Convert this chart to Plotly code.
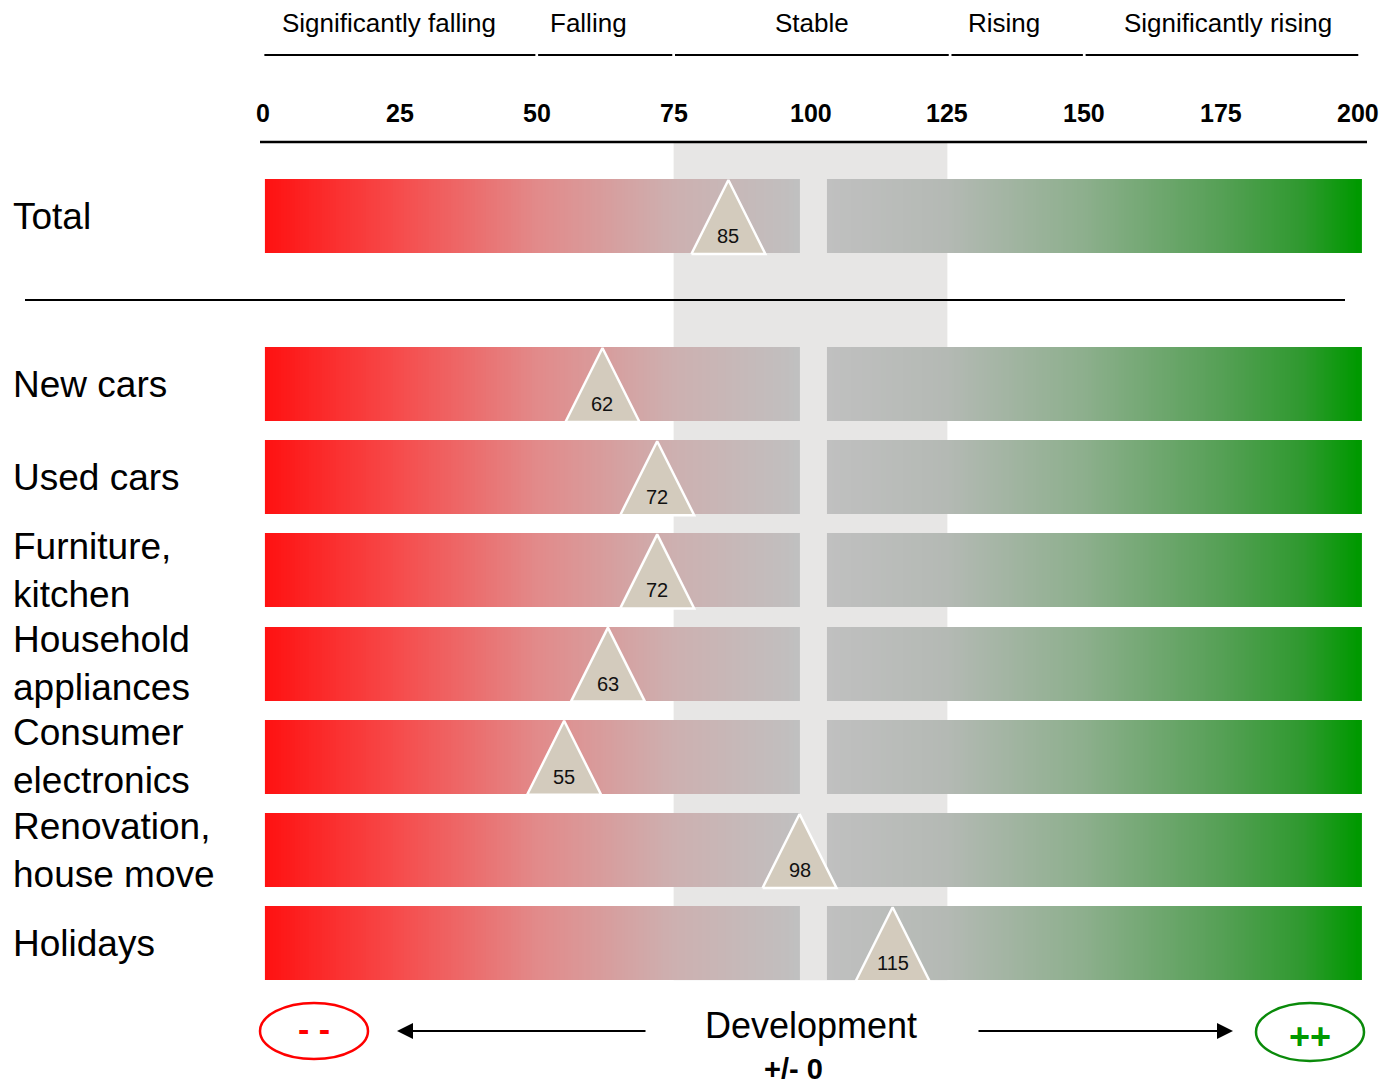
import plotly.graph_objects as go

# ---- data ----
categories = ["Total", "New cars", "Used cars", "Furniture,<br>kitchen",
              "Household<br>appliances", "Consumer<br>electronics",
              "Renovation,<br>house move", "Holidays"]
values = [85, 62, 72, 72, 63, 55, 98, 115]
tick_values = [0, 25, 50, 75, 100, 125, 150, 175, 200]
zone_labels = ["Significantly falling", "Falling", "Stable", "Rising", "Significantly rising"]
zone_label_pos = [23, 59.5, 100.3, 135.3, 176.3]
zone_edges = [0, 50, 75, 125.5, 150, 200.3]
stable_band = (75, 125)
left_bar = (0.35, 98.2)
right_bar = (103.1, 200.7)

# ---- geometry (pixel-like y units, x in index units) ----
W, H = 1383, 1085
X0_PX, PX_PER_UNIT = 263, 5.475
x_range = [-X0_PX / PX_PER_UNIT, (W - X0_PX) / PX_PER_UNIT]
BAR_H = 74
row_tops = [179] + [347 + i * 93.2 for i in range(len(categories) - 1)]
FONT = "Liberation Sans, Arial, sans-serif"


def px_to_x(px):
    return (px - X0_PX) / PX_PER_UNIT


fig = go.Figure()

# gradient bars: one heatmap with gaps between rows and around 100
n_cells = 402
span = right_bar[1] - left_bar[0]
x_edges = [left_bar[0] + span * i / n_cells for i in range(n_cells + 1)]
x_centers = [(a + b) / 2 for a, b in zip(x_edges[:-1], x_edges[1:])]
bar_row = [c if (c <= left_bar[1] or c >= right_bar[0]) else None for c in x_centers]
gap_row = [None] * len(x_centers)
y_edges, z = [], []
for i, top in enumerate(row_tops):
    y_edges += [top, top + BAR_H]
    z.append(bar_row)
    if i < len(row_tops) - 1:
        z.append(gap_row)

colorscale = [
    [0.0, "#ff1010"], [25 / 200, "#f64c4c"], [50 / 200, "#e28a8a"],
    [75 / 200, "#cdb0b0"], [98 / 200, "#c0c0c0"], [103 / 200, "#c0c0c0"],
    [125 / 200, "#b4b9b4"], [150 / 200, "#8daf8d"], [175 / 200, "#56a056"],
    [190 / 200, "#2f992f"], [1.0, "#009900"],
]
fig.add_trace(go.Heatmap(x=x_edges, y=y_edges, z=z, zmin=0, zmax=200,
                         colorscale=colorscale, showscale=False, hoverinfo="skip"))

# triangle markers with value labels
half_w = 37 / PX_PER_UNIT
for v, top in zip(values, row_tops):
    base = top + BAR_H + 1
    fig.add_trace(go.Scatter(
        x=[v - half_w, v, v + half_w, v - half_w],
        y=[base, top + 1, base, base],
        mode="lines", fill="toself", fillcolor="#d3cbbd",
        line=dict(color="white", width=2.5), hoverinfo="skip", showlegend=False))
    fig.add_annotation(x=v, y=base - 18, xref="x", yref="y", text=str(v),
                       showarrow=False, font=dict(family=FONT, size=20, color="#111"))

# category labels
for cat, top in zip(categories, row_tops):
    fig.add_annotation(x=11 / W, xref="paper", y=top + BAR_H / 2, yref="y",
                       text=cat, showarrow=False, xanchor="left", align="left",
                       font=dict(family=FONT, size=37, color="black"))

shapes = [
    # stable band
    dict(type="rect", xref="x", yref="y", x0=stable_band[0], x1=stable_band[1],
         y0=143, y1=row_tops[-1] + BAR_H, fillcolor="#e7e6e5", line_width=0, layer="below"),
    # scale axis line
    dict(type="line", xref="x", yref="y", x0=px_to_x(260), x1=px_to_x(1367), y0=142, y1=142,
         line=dict(color="black", width=2.5)),
    # separator under Total
    dict(type="line", xref="x", yref="y", x0=px_to_x(25), x1=px_to_x(1345), y0=300, y1=300,
         line=dict(color="black", width=2)),
    # outcome ellipses
    dict(type="circle", xref="x", yref="y", x0=px_to_x(260), x1=px_to_x(368), y0=1003, y1=1059,
         line=dict(color="#ff0000", width=2.5)),
    dict(type="circle", xref="x", yref="y", x0=px_to_x(1256), x1=px_to_x(1364), y0=1003, y1=1061,
         line=dict(color="#0a8a0a", width=2.5)),
]
# zone header segments
for a, b in zip(zone_edges[:-1], zone_edges[1:]):
    shapes.append(dict(type="line", xref="x", yref="y", x0=a + 0.25, x1=b - 0.25, y0=55, y1=55,
                       line=dict(color="black", width=2)))

for lbl, pos in zip(zone_labels, zone_label_pos):
    fig.add_annotation(x=pos, y=23, xref="x", yref="y", text=lbl, showarrow=False,
                       font=dict(family=FONT, size=26, color="black"))

for t in tick_values:
    fig.add_annotation(x=t, y=113, xref="x", yref="y", text=f"<b>{t}</b>", showarrow=False,
                       font=dict(family=FONT, size=25, color="black"))

# bottom legend: development direction
fig.add_annotation(x=px_to_x(314), y=1029, xref="x", yref="y", text="<b>- -</b>",
                   showarrow=False, font=dict(family=FONT, size=34, color="#ff0000"))
fig.add_annotation(x=px_to_x(1310), y=1036, xref="x", yref="y", text="<b>++</b>",
                   showarrow=False, font=dict(family=FONT, size=36, color="#009900"))
fig.add_annotation(x=px_to_x(811), y=1025, xref="x", yref="y", text="Development",
                   showarrow=False, font=dict(family=FONT, size=36, color="black"))
fig.add_annotation(x=px_to_x(793), y=1069, xref="x", yref="y", text="<b>+/- 0</b>",
                   showarrow=False, font=dict(family=FONT, size=29, color="black"))
fig.add_annotation(x=px_to_x(397), y=1031, xref="x", yref="y", ax=250, ay=0, text="",
                   showarrow=True, arrowhead=2, arrowsize=1.6, arrowwidth=2, arrowcolor="black")
fig.add_annotation(x=px_to_x(1233), y=1031, xref="x", yref="y", ax=-256, ay=0, text="",
                   showarrow=True, arrowhead=2, arrowsize=1.6, arrowwidth=2, arrowcolor="black")

fig.update_layout(
    width=W, height=H, margin=dict(l=0, r=0, t=0, b=0),
    paper_bgcolor="white", plot_bgcolor="white", showlegend=False,
    shapes=shapes,
    xaxis=dict(range=x_range, visible=False, fixedrange=True),
    yaxis=dict(range=[H, 0], visible=False, fixedrange=True),
)

fig.write_html("out.html")
